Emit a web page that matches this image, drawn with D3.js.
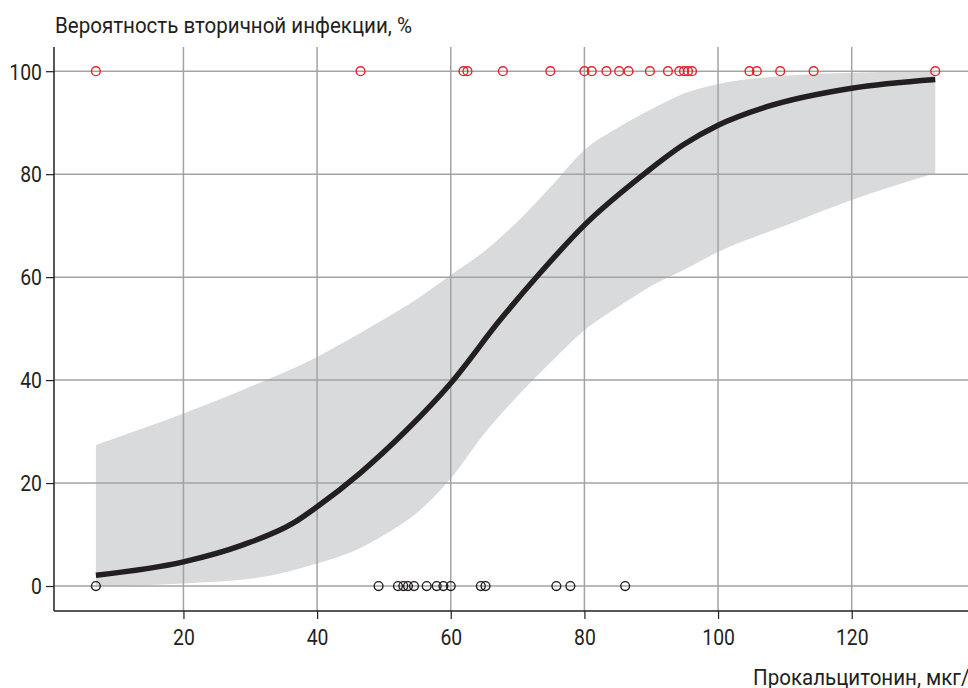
<!DOCTYPE html>
<html>
<head>
<meta charset="utf-8">
<script src="https://cdn.jsdelivr.net/npm/d3@7"></script>
<style>
    body { margin: 0; background: white; }
    text { font-family: 'Roboto', 'Liberation Sans', sans-serif; fill: #231f20; }
</style>
</head>
<body>
<script>
let width = 968
let height = 688
let margin = { top: 47, bottom: 77, left: 54, right: 0 }

// fitted curve (x, %)
let curveX = [6.9, 20, 28.9, 36.4, 40, 46.4, 53.4, 60, 67.4, 73.3, 80, 89.1, 94.8, 100, 107.3, 120, 132.5]
let curveY = [2.1, 4.7, 8.0, 12.2, 15.4, 21.9, 30.3, 39.4, 51.7, 60.7, 70.1, 80.2, 85.7, 89.5, 93.1, 96.7, 98.4]

// confidence band
let bandX = [6.9, 20, 30, 40, 46, 50, 55, 60, 65, 70, 75, 80, 85, 90, 95, 100, 110, 120, 132.5]
let bandLow = [0, 0.5, 1.4, 4.4, 7.1, 9.9, 14.3, 20.9, 29.6, 36.9, 43.5, 49.7, 54.2, 58.3, 61.5, 64.9, 70, 75, 80.2]
let bandHigh = [27.4, 33.5, 38.7, 44.5, 48.8, 51.8, 55.8, 60.4, 65, 70.8, 77.6, 84.7, 89, 92.6, 95.7, 97.5, 99.1, 99.7, 100]

// observed cases
let infected = [6.9, 46.5, 61.9, 62.5, 67.8, 74.9, 80.0, 81.1, 83.3, 85.2, 86.6, 89.8, 92.5, 94.2, 94.9, 95.5, 96.1, 104.7, 105.8, 109.3, 114.3, 132.5]
let notInfected = [6.9, 49.2, 52.1, 52.9, 53.6, 54.5, 56.4, 57.9, 58.9, 60.0, 64.5, 65.2, 75.8, 77.9, 86.1]

let xTicks = [20, 40, 60, 80, 100, 120]
let yTicks = [0, 20, 40, 60, 80, 100]
let yTitle = 'Вероятность вторичной инфекции, %'
let xTitle = 'Прокальцитонин, мкг/л'

let svg = d3.select('body')
    .append('svg')
        .attr('width', width)
        .attr('height', height)

let x = d3.scaleLinear()
    .domain([0.63, 137.4])
    .range([margin.left, width - margin.right])

let y = d3.scaleLinear()
    .domain([-4.85, 104.7])
    .range([height - margin.bottom, margin.top])

// band (under the grid)
let area = d3.area()
    .x(d => x(d[0]))
    .y0(d => y(d[1]))
    .y1(d => y(d[2]))
    .curve(d3.curveMonotoneX)

svg.append('path')
    .datum(bandX.map((v, i) => [v, bandLow[i], bandHigh[i]]))
    .attr('d', area)
    .attr('fill', '#d9dadc')

// grid
svg.append('g')
    .selectAll('line')
    .data(xTicks)
    .enter()
    .append('line')
        .attr('x1', d => x(d))
        .attr('x2', d => x(d))
        .attr('y1', margin.top)
        .attr('y2', height - margin.bottom)
        .attr('stroke', '#a3a3a3')
        .attr('stroke-width', 1.5)

svg.append('g')
    .selectAll('line')
    .data(yTicks)
    .enter()
    .append('line')
        .attr('x1', margin.left)
        .attr('x2', width)
        .attr('y1', d => y(d))
        .attr('y2', d => y(d))
        .attr('stroke', '#a3a3a3')
        .attr('stroke-width', 1.5)

// curve
let line = d3.line()
    .x(d => x(d[0]))
    .y(d => y(d[1]))
    .curve(d3.curveMonotoneX)

svg.append('path')
    .datum(curveX.map((v, i) => [v, curveY[i]]))
    .attr('d', line)
    .attr('fill', 'none')
    .attr('stroke', '#231f20')
    .attr('stroke-width', 5.5)

// points
svg.append('g')
    .selectAll('circle')
    .data(infected)
    .enter()
    .append('circle')
        .attr('cx', d => x(d))
        .attr('cy', y(100))
        .attr('r', 4.4)
        .attr('fill', 'none')
        .attr('stroke', '#e0262b')
        .attr('stroke-width', 1.4)

svg.append('g')
    .selectAll('circle')
    .data(notInfected)
    .enter()
    .append('circle')
        .attr('cx', d => x(d))
        .attr('cy', y(0))
        .attr('r', 4.4)
        .attr('fill', 'none')
        .attr('stroke', '#231f20')
        .attr('stroke-width', 1.4)

// axes
let xAxis = d3.axisBottom(x)
    .tickValues(xTicks)
    .tickSize(8)

let yAxis = d3.axisLeft(y)
    .tickValues(yTicks)
    .tickSize(8)
    .tickPadding(4)

let gx = svg.append('g')
    .attr('transform', 'translate(0,' + (height - margin.bottom) + ')')
    .call(xAxis)

let gy = svg.append('g')
    .attr('transform', 'translate(' + margin.left + ',0)')
    .call(yAxis)

for (let g of [gx, gy]) {
    g.select('.domain').attr('stroke', '#231f20').attr('stroke-width', 1.5)
    g.selectAll('.tick line').attr('stroke', '#231f20').attr('stroke-width', 1.2)
    g.selectAll('.tick text')
        .attr('font-size', 22)
        .attr('font-family', null)
        .attr('fill', '#231f20')
}
gx.select('.domain').attr('d', 'M' + margin.left + ',0H' + width)
gy.select('.domain').attr('d', 'M0,' + margin.top + 'V' + (height - margin.bottom))
gy.selectAll('.tick text').attr('dy', '0.355em')
gx.selectAll('.tick text').attr('y', 34).attr('dy', null)

// titles
svg.append('text')
    .attr('class', 'title')
    .attr('x', 55)
    .attr('y', 33)
    .attr('font-size', 21.5)
    .text(yTitle)

svg.append('text')
    .attr('class', 'title')
    .attr('x', 753)
    .attr('y', 685)
    .attr('font-size', 21.5)
    .text(xTitle)

// condensed look: narrow the labels a little
function squeeze(sel, k) {
    sel.each(function() {
        let w = this.getComputedTextLength()
        d3.select(this)
            .attr('textLength', w * k)
            .attr('lengthAdjust', 'spacingAndGlyphs')
    })
}
squeeze(svg.selectAll('.tick text'), 0.88)
squeeze(svg.selectAll('.title'), 0.955)
</script>
</body>
</html>
